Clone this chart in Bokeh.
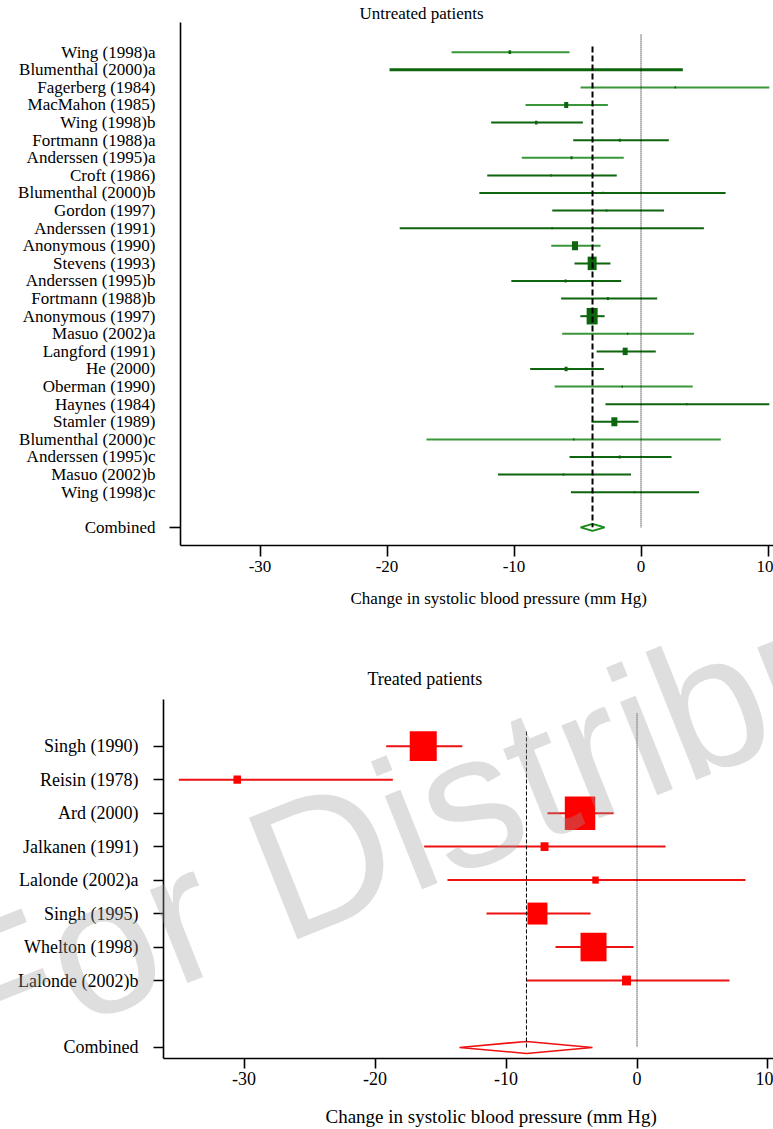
import math
from bokeh.plotting import figure
from bokeh.models import Range1d, LinearAxis, FixedTicker, ColumnDataSource, Title
from bokeh.layouts import column, row
from bokeh.embed import file_html
from bokeh.resources import INLINE
from bokeh.core.properties import value

# ---------------- data: untreated patients ----------------
untreated_studies = [
    "Wing (1998)a", "Blumenthal (2000)a", "Fagerberg (1984)", "MacMahon (1985)",
    "Wing (1998)b", "Fortmann (1988)a", "Anderssen (1995)a", "Croft (1986)",
    "Blumenthal (2000)b", "Gordon (1997)", "Anderssen (1991)", "Anonymous (1990)",
    "Stevens (1993)", "Anderssen (1995)b", "Fortmann (1988)b", "Anonymous (1997)",
    "Masuo (2002)a", "Langford (1991)", "He (2000)", "Oberman (1990)",
    "Haynes (1984)", "Stamler (1989)", "Blumenthal (2000)c", "Anderssen (1995)c",
    "Masuo (2002)b", "Wing (1998)c",
]
untreated_est = [-10.33, -8.25, 2.7, -5.89, -8.25, -1.67, -5.47, -7.07, -3.0, -2.72,
                 -7.0, -5.2, -3.85, -5.94, -2.61, -3.85, -1.06, -1.25, -5.9, -1.48,
                 3.6, -2.1, -5.3, -1.68, -6.1, -0.51]
untreated_lo = [-14.92, -19.8, -4.76, -9.09, -11.8, -5.34, -9.39, -12.11, -12.73, -6.99,
                -19.0, -7.07, -5.24, -10.21, -6.29, -4.78, -6.21, -3.5, -8.73, -6.8,
                -2.8, -3.9, -16.89, -5.63, -11.26, -5.52]
untreated_hi = [-5.63, 3.29, 10.1, -2.61, -4.58, 2.19, -1.36, -1.91, 6.66, 1.81,
                4.95, -3.19, -2.41, -1.56, 1.27, -2.87, 4.18, 1.16, -2.92, 4.07,
                10.1, -0.2, 6.28, 2.4, -0.79, 4.57]
untreated_weight = [1.7, 0.3, 0.3, 4.3, 1.7, 1.1, 1.1, 0.6, 0.3, 0.6,
                    0.3, 9.6, 21.5, 1.1, 1.1, 32.2, 0.6, 6.6, 2.4, 0.6,
                    0.3, 9.6, 0.3, 1.1, 0.6, 0.6]
untreated_combined_est = -3.82
untreated_combined_lo = -4.76
untreated_combined_hi = -2.87

# ---------------- data: treated patients ----------------
treated_studies = ["Singh (1990)", "Reisin (1978)", "Ard (2000)", "Jalkanen (1991)",
                   "Lalonde (2002)a", "Singh (1995)", "Whelton (1998)", "Lalonde (2002)b"]
treated_est = [-16.32, -30.52, -4.35, -7.06, -3.17, -7.6, -3.32, -0.8]
treated_lo = [-19.15, -34.98, -6.83, -16.25, -14.47, -11.49, -6.22, -8.47]
treated_hi = [-13.34, -18.64, -1.79, 2.18, 8.28, -3.55, -0.27, 7.06]
treated_weight = [24.5, 1.9, 31.2, 2.1, 1.4, 13.4, 22.7, 2.7]
treated_combined_est = -8.44
treated_combined_lo = -13.55
treated_combined_hi = -3.4

x_ticks = [-30, -20, -10, 0, 10]
x_tick_labels = ["-30", "-20", "-10", "0", "10"]
combined_label = "Combined"
x_title = "Change in systolic blood pressure (mm Hg)"
top_title = "Untreated patients"
bottom_title = "Treated patients"
watermark = "For Distribution"

# ---------------- styles ----------------
SERIF = "Liberation Serif"
GREEN_LIGHT = "#3a963a"
GREEN_DARK = "#0d650d"
light_rows = {0, 2, 3, 6, 11, 16, 19, 22}
top_line_colors = [GREEN_LIGHT if i in light_rows else GREEN_DARK for i in range(len(untreated_studies))]
top_line_widths = [3.0 if i == 1 else 2.0 for i in range(len(untreated_studies))]


def x_axis(font_size, tick_out, standoff):
    return LinearAxis(
        ticker=FixedTicker(ticks=x_ticks, minor_ticks=[]),
        major_label_overrides={t: l for t, l in zip(x_ticks, x_tick_labels)},
        major_tick_out=tick_out, major_tick_in=0, minor_tick_out=0, minor_tick_in=0,
        axis_line_width=1.6, major_tick_line_width=1.6, axis_line_color="black",
        major_tick_line_color="black",
        major_label_text_font=SERIF, major_label_text_font_size=font_size,
        major_label_text_color="black", major_label_standoff=standoff,
    )


def spacer_axis(height):
    # invisible axis used only to leave room between the tick labels and the axis title
    return LinearAxis(
        ticker=FixedTicker(ticks=[0], minor_ticks=[]),
        major_label_overrides={0: ""}, major_label_text_font_size="1px",
        major_label_standoff=0, major_tick_out=height, major_tick_in=0,
        minor_tick_out=0, minor_tick_in=0,
        axis_line_color=None, major_tick_line_color=None, minor_tick_line_color=None,
    )


def title(text, size, offset, standoff):
    return Title(text=text, align="left", offset=offset, standoff=standoff,
                 text_font=SERIF, text_font_size=size, text_font_style="normal",
                 text_color="black")


# ================= top figure =================
n1 = len(untreated_studies)
rows1 = list(range(1, n1 + 1))
comb_row1 = n1 + 2

p1 = figure(width=773, height=640, output_backend="svg", toolbar_location=None,
            x_range=Range1d(-36.26, 10.43), y_range=Range1d(29.03, -0.6875),
            x_axis_location=None, y_axis_location=None,
            min_border_left=180, min_border_right=0, min_border_top=22, min_border_bottom=95)
p1.outline_line_color = None
p1.grid.visible = False
p1.background_fill_color = "white"
p1.border_fill_color = "white"

p1.add_layout(x_axis("17px", 11, 4), "below")
p1.add_layout(title(x_title, "17px", 170, 25), "below")
p1.add_layout(title(top_title, "17px", 179, 0), "above")

ax_tick1 = LinearAxis(ticker=FixedTicker(ticks=[comb_row1], minor_ticks=[]),
                      major_label_overrides={comb_row1: ""},
                      major_tick_out=11, major_tick_in=0, minor_tick_out=0, minor_tick_in=0,
                      major_label_standoff=0, axis_line_width=1.6, major_tick_line_width=1.6,
                      major_label_text_font_size="1px")
p1.add_layout(ax_tick1, "left")
lab_over1 = {r: s for r, s in zip(rows1, untreated_studies)}
lab_over1[comb_row1] = combined_label
ax_lab1 = LinearAxis(ticker=FixedTicker(ticks=rows1 + [comb_row1], minor_ticks=[]),
                     major_label_overrides=lab_over1,
                     axis_line_color=None, major_tick_line_color=None,
                     major_tick_out=0, major_tick_in=0, minor_tick_out=0, minor_tick_in=0,
                     major_label_standoff=14, major_label_text_font=SERIF,
                     major_label_text_font_size="17px", major_label_text_color="black")
p1.add_layout(ax_lab1, "left")

k1 = 11.0 / math.sqrt(max(untreated_weight))
side1 = [max(1.5, k1 * math.sqrt(w)) for w in untreated_weight]
src1 = ColumnDataSource(dict(
    y=rows1, est=untreated_est, lo=untreated_lo, hi=untreated_hi,
    w=side1, h=[s * 1.5 for s in side1], color=top_line_colors, lw=top_line_widths))
p1.segment(x0="lo", y0="y", x1="hi", y1="y", line_color="color", line_width="lw", source=src1)
p1.rect(x="est", y="y", width="w", height="h", width_units="screen", height_units="screen",
        fill_color=GREEN_DARK, line_color=None, source=src1)

hd1 = 0.2
p1.patch([untreated_combined_lo, untreated_combined_est, untreated_combined_hi, untreated_combined_est],
         [comb_row1, comb_row1 - hd1, comb_row1, comb_row1 + hd1],
         fill_color="white", line_color="#1a8a1a", line_width=2)

p1.segment(x0=[untreated_combined_est], y0=[rows1[0] - 0.32], x1=[untreated_combined_est], y1=[comb_row1],
           line_color="black", line_width=2, line_dash="6 3")
p1.segment(x0=[0], y0=[rows1[0] - 1.0], x1=[0], y1=[comb_row1],
           line_color="black", line_width=1, line_dash="1 1")

# ================= bottom figure =================
n2 = len(treated_studies)
rows2 = list(range(1, n2 + 1))
comb_row2 = n2 + 2

p2 = figure(width=773, height=489, output_backend="svg", toolbar_location=None,
            x_range=Range1d(-36.15, 10.42), y_range=Range1d(10.33, -0.395),
            x_axis_location=None, y_axis_location=None,
            min_border_left=163, min_border_right=0, min_border_top=59, min_border_bottom=71)
p2.outline_line_color = None
p2.grid.visible = False
p2.background_fill_color = "white"
p2.border_fill_color = "white"

p2.add_layout(x_axis("18px", 10, 3), "below")
p2.add_layout(spacer_axis(16), "below")
p2.add_layout(title(x_title, "19px", 162, 0), "below")
p2.add_layout(title(bottom_title, "18px", 204, 22), "above")

lab_over2 = {r: s for r, s in zip(rows2, treated_studies)}
lab_over2[comb_row2] = combined_label
ax_lab2 = LinearAxis(ticker=FixedTicker(ticks=rows2 + [comb_row2], minor_ticks=[]),
                     major_label_overrides=lab_over2,
                     axis_line_width=1.6, major_tick_line_width=1.6,
                     major_tick_out=10, major_tick_in=0, minor_tick_out=0, minor_tick_in=0,
                     major_label_standoff=15, major_label_text_font=SERIF,
                     major_label_text_font_size="18px", major_label_text_color="black")
p2.add_layout(ax_lab2, "left")

k2 = 27.0 / math.sqrt(treated_weight[0])
side2 = [k2 * math.sqrt(w) for w in treated_weight]
src2 = ColumnDataSource(dict(
    y=rows2, est=treated_est, lo=treated_lo, hi=treated_hi,
    w=side2, h=[s * 1.1 for s in side2]))
p2.segment(x0="lo", y0="y", x1="hi", y1="y", line_color="#ee1111", line_width=2, source=src2)
p2.rect(x="est", y="y", width="w", height="h", width_units="screen", height_units="screen",
        fill_color="#ff0000", line_color=None, source=src2)

hd2 = 0.18
p2.patch([treated_combined_lo, treated_combined_est, treated_combined_hi, treated_combined_est],
         [comb_row2, comb_row2 - hd2, comb_row2, comb_row2 + hd2],
         fill_color="white", line_color="#ee1111", line_width=1.6)

p2.segment(x0=[treated_combined_est], y0=[rows2[0] - 0.44], x1=[treated_combined_est], y1=[comb_row2],
           line_color="black", line_width=1, line_dash="4 2")
p2.segment(x0=[0], y0=[rows2[0] - 0.98], x1=[0], y1=[comb_row2],
           line_color="black", line_width=1, line_dash="1 1")

# watermark: a text glyph on the overlay level, so that it is not clipped to the frame
p2.text(x=[-52.85], y=[8.85], text=[watermark], angle=0.38, angle_units="rad",
        text_font=value("Liberation Sans"), text_font_size="190px",
        text_color="#9a9a9a", text_alpha=0.33, text_align="left",
        text_baseline="alphabetic", level="overlay")

layout = column(p1, row(p2), spacing=0)
open("out.html", "w").write(file_html(layout, INLINE))
